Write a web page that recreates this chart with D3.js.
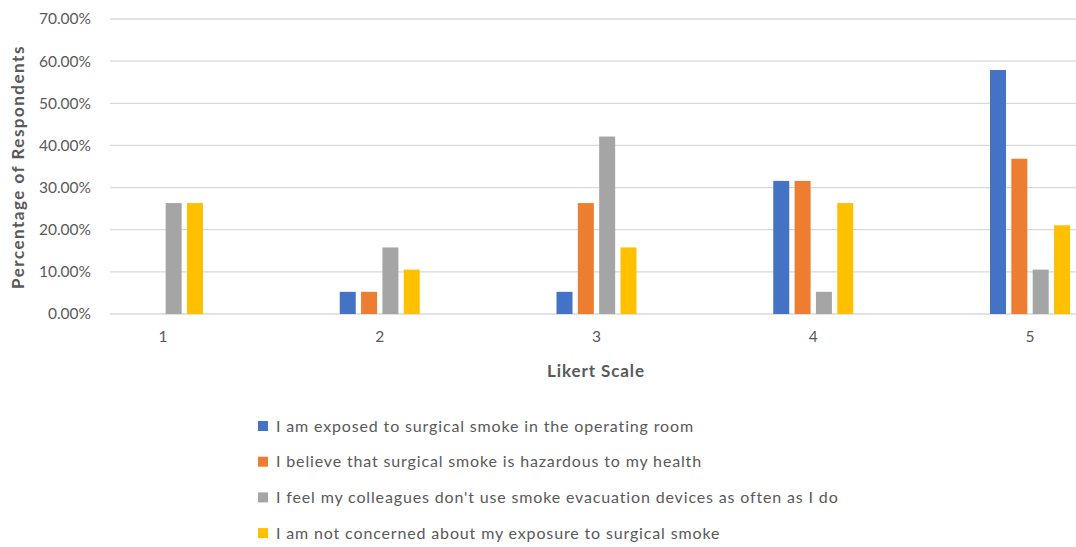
<!DOCTYPE html>
<html><head><meta charset="utf-8">
<script src="https://cdn.jsdelivr.net/npm/d3@7"></script>
<style>body{margin:0;background:#fff;} svg{display:block;font-family:Lato,"Open Sans",sans-serif;}</style>
</head><body>
<script>
const categories = ["1","2","3","4","5"];
const seriesNames = [
  "I am exposed to surgical smoke in the operating room",
  "I believe that surgical smoke is hazardous to my health",
  "I feel my colleagues don't use smoke evacuation devices as often as I do",
  "I am not concerned about my exposure to surgical smoke"
];
const exposed   = [0, 5.26, 5.26, 31.58, 57.89];
const hazardous = [0, 5.26, 26.32, 31.58, 36.84];
const colleagues= [26.32, 15.79, 42.11, 5.26, 10.53];
const notConcerned = [26.32, 10.53, 15.79, 26.32, 21.05];
const seriesValues = [exposed, hazardous, colleagues, notConcerned];
const colors = ["#4472C4","#ED7D31","#A5A5A5","#FFC000"];
const yTicks = [0,10,20,30,40,50,60,70];

const W=1076,H=547;
const svg=d3.select("body").append("svg").attr("width",W).attr("height",H);
const y=d3.scaleLinear().domain([0,70]).range([314,19]);
const x0=d3.scaleBand().domain(categories).range([54.6,1138.4]).padding(0);
const x1=d3.scaleBand().domain(d3.range(4)).range([-40,40]).paddingInner(0.25);

// gridlines
svg.append("g").selectAll("line").data(yTicks).join("line")
  .attr("x1",110).attr("x2",1076).attr("y1",d=>y(d)).attr("y2",d=>y(d))
  .attr("stroke","#D9D9D9").attr("stroke-width",1.3);

// y axis labels
const yAxis=d3.axisLeft(y).tickValues(yTicks).tickFormat(d=>d.toFixed(2)+"%").tickSize(0).tickPadding(0);
const ga=svg.append("g").attr("transform","translate(91,0)").call(yAxis);
ga.select(".domain").remove();
ga.selectAll("text").attr("font-size",15.5).attr("fill","#595959").attr("font-family","Lato");

// bars
const groups=svg.append("g").selectAll("g").data(categories).join("g")
  .attr("transform",d=>`translate(${x0(d)+x0.bandwidth()/2},0)`);
groups.selectAll("rect").data((c,i)=>seriesValues.map((s,j)=>({j,v:s[i]}))).join("rect")
  .attr("x",d=>x1(d.j)).attr("width",x1.bandwidth())
  .attr("y",d=>y(d.v)).attr("height",d=>y(0)-y(d.v))
  .attr("fill",d=>colors[d.j]);

// x axis labels
const xAxis=d3.axisBottom(x0).tickSize(0).tickPadding(0);
const gx=svg.append("g").attr("transform","translate(0,331)").call(xAxis);
gx.select(".domain").remove();
gx.selectAll("text").attr("font-size",15.5).attr("fill","#595959").attr("font-family","Lato");

// axis titles
svg.append("text").attr("x",596).attr("y",377).attr("text-anchor","middle")
  .attr("font-size",17).attr("letter-spacing",0.9).attr("font-weight","bold").attr("fill","#595959").text("Likert Scale");
svg.append("text").attr("transform","translate(24,167) rotate(-90)").attr("text-anchor","middle")
  .attr("font-size",17).attr("letter-spacing",1.5).attr("font-weight","bold").attr("fill","#595959").text("Percentage of Respondents");

// legend
const lg=svg.append("g").selectAll("g").data(seriesNames).join("g")
  .attr("transform",(d,i)=>`translate(258,${426+i*35.7})`);
lg.append("rect").attr("x",0).attr("y",-5).attr("width",10).attr("height",10).attr("fill",(d,i)=>colors[i]);
lg.append("text").attr("x",18).attr("y",0).attr("dy","0.35em").attr("font-size",16).attr("letter-spacing",0.85)
  .attr("fill","#595959").text(d=>d);
</script>
</body></html>
